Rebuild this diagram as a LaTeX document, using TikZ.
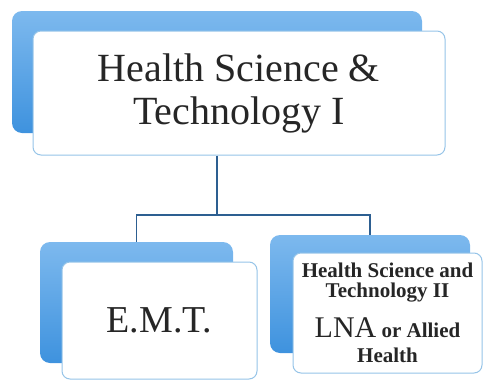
\documentclass[tikz,border=0pt]{standalone}
\usepackage{fontspec}
\setmainfont{Liberation Serif}
\usetikzlibrary{positioning, calc}

\begin{document}
\begin{tikzpicture}[x=1pt, y=-1pt, align=center, line width=1pt,
    backbox/.style={rounded corners=10pt, top color=backtop, bottom color=backbottom, draw=none, inner sep=0pt},
    frontbox/.style={rounded corners=8pt, fill=white, draw=frontedge, line width=1pt, inner sep=0pt, text=textgray},
    conn/.style={draw=linkblue, line width=1.6pt}]
        % Define colors
        \definecolor{backtop}{RGB}{125,185,238}
        \definecolor{backbottom}{RGB}{62,146,222}
        \definecolor{frontedge}{RGB}{150,196,232}
        \definecolor{linkblue}{RGB}{45,95,145}
        \definecolor{textgray}{RGB}{38,38,38}

        \useasboundingbox (0,0) rectangle (483,381);

        % Back boxes
        \node[backbox, minimum width=410pt, minimum height=122pt] (topback) at (217,72) {};
        \node[backbox, minimum width=193pt, minimum height=121pt] (leftback) at (136.5,302.5) {};
        \node[backbox, minimum width=200pt, minimum height=118pt] (rightback) at (370,294) {};

        % Front boxes
        \node[frontbox, minimum width=412pt, minimum height=124pt, font=\fontsize{40}{43}\selectfont] (top) at ($(topback)+(22,21)$) {Health Science \&\\Technology I};
        \node[frontbox, minimum width=195pt, minimum height=117pt, font=\fontsize{38}{40}\selectfont] (emt) at ($(leftback)+(23,18)$) {E.M.T.};
        \node[frontbox, minimum width=189pt, minimum height=120pt, font=\fontsize{21}{20}\selectfont\bfseries] (lna) at ($(rightback)+(17.5,19)$)
            {Health Science and\\Technology II\\[14pt]{\fontsize{30}{30}\selectfont\mdseries LNA} or Allied\\[5pt]Health};

        % Edges
        \coordinate (split) at (217,215);
        \draw[conn] (top.south -| topback.center) -- (split);
        \draw[conn] (split) -| (leftback.north);
        \draw[conn] (split) -| (rightback.north);
    \end{tikzpicture}
\end{document}
